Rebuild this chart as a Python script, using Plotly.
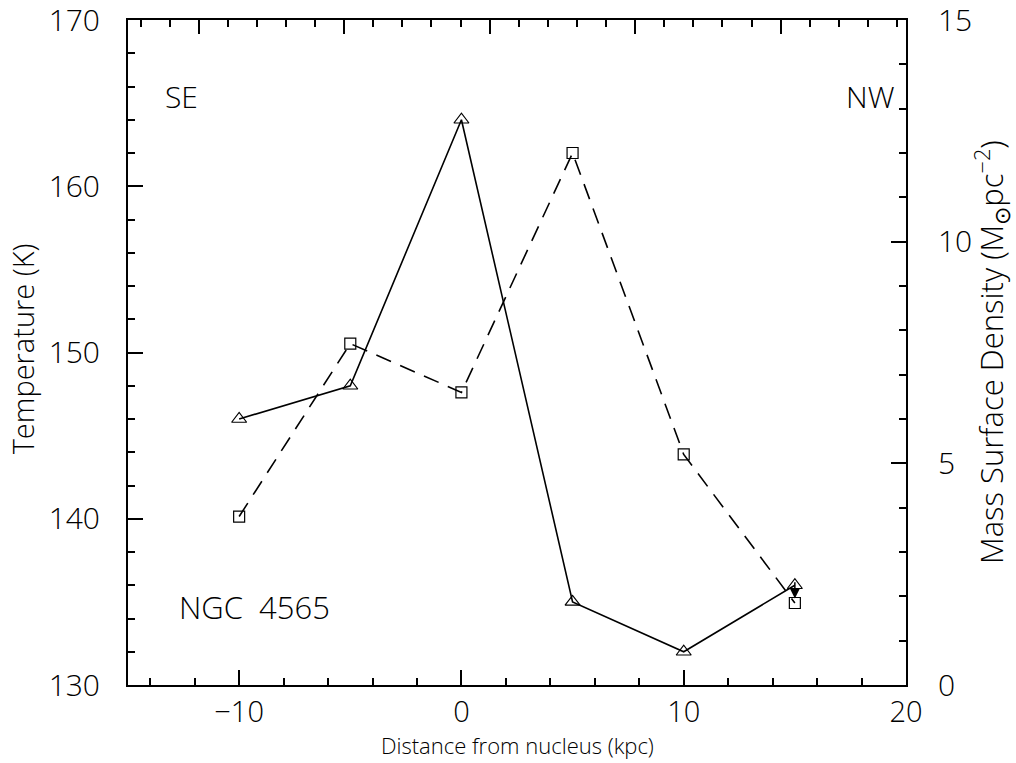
import plotly.graph_objects as go

distance = [-10, -5, 0, 5, 10, 15]
temperature = [146, 148, 164, 135, 132, 136]
mass_density = [3.8, 7.7, 6.6, 12.0, 5.2, 1.85]

FONT = "Open Sans"
W = 300

def f(size):
    return dict(family=FONT, size=size, color="black", weight=W)

fig = go.Figure()
fig.add_trace(go.Scatter(
    x=distance, y=temperature, mode="lines+markers",
    line=dict(color="black", width=1.6),
    marker=dict(symbol="triangle-up-open", size=13, color="black", line=dict(width=1.2)),
    yaxis="y", xaxis="x", showlegend=False))
fig.add_trace(go.Scatter(
    x=distance, y=mass_density, mode="lines+markers",
    line=dict(color="black", width=1.6, dash="16px,10px"),
    marker=dict(symbol="square-open", size=11, color="black", line=dict(width=1.2)),
    yaxis="y2", xaxis="x", showlegend=False))

fig.add_annotation(x=15, y=1.95, xref="x", yref="y2", ax=15, ay=2.35, axref="x", ayref="y2",
                   showarrow=True, arrowhead=2, arrowsize=1.3, arrowwidth=1.5, arrowcolor="black", text="")

axis_common = dict(showgrid=False, zeroline=False, showline=True, linecolor="black", linewidth=2,
                   ticks="inside", tickcolor="black", tickwidth=1.5, automargin=False,
                   ticklabeloverflow="allow")

fig.update_layout(
    width=1016, height=763,
    margin=dict(l=128, r=110, t=20, b=78),
    paper_bgcolor="white", plot_bgcolor="white",
    xaxis=dict(range=[-15, 20], dtick=10, tick0=0, ticklen=15, tickfont=f(29),
               minor=dict(dtick=2, ticklen=7, ticks="inside", tickcolor="black", tickwidth=1.5),
               ticklabelstandoff=0, **axis_common),
    xaxis2=dict(range=[-2.43, 24.31], overlaying="x", side="top", anchor="y",
                dtick=5, tick0=0, ticklen=14, showticklabels=False,
                minor=dict(dtick=1, ticklen=7, ticks="inside", tickcolor="black", tickwidth=1.5),
                **axis_common),
    yaxis=dict(range=[130, 170], dtick=10, ticklen=15, tickfont=f(30),
               minor=dict(dtick=2, ticklen=7, ticks="inside", tickcolor="black", tickwidth=1.5),
               ticklabelstandoff=20, **axis_common),
    yaxis2=dict(range=[0, 15], dtick=5, overlaying="y", side="right", anchor="x", ticklen=15,
                tickfont=f(30),
                minor=dict(dtick=1, ticklen=7, ticks="inside", tickcolor="black", tickwidth=1.5),
                ticklabelstandoff=24, **axis_common),
)

# dummy trace to activate top axis
fig.add_trace(go.Scatter(x=[None], y=[None], xaxis="x2", yaxis="y", showlegend=False))

fig.add_annotation(text="Temperature (K)", xref="paper", yref="paper", x=-0.136, y=0.505,
                   textangle=-90, showarrow=False, font=f(29),
                   xanchor="center", yanchor="middle")
fig.add_annotation(text="Mass Surface Density (M<sub>⊙</sub>pc<sup>−2</sup>)", xref="paper", yref="paper",
                   x=1.11, y=0.5, textangle=-90, showarrow=False,
                   font=f(31), xanchor="center", yanchor="middle")
fig.add_annotation(text="Distance from nucleus (kpc)", xref="paper", yref="paper", x=0.5, y=-0.1143,
                   showarrow=False, font=f(22), borderpad=0,
                   xanchor="center", yanchor="bottom")

fig.add_annotation(text="SE", x=-13.43, y=165.4, xref="x", yref="y", showarrow=False,
                   xanchor="left", yanchor="middle", font=f(30))
fig.add_annotation(text="NW", x=19.6, y=165.4, xref="x", yref="y", showarrow=False,
                   xanchor="right", yanchor="middle", font=f(30))
fig.add_annotation(text="NGC  4565", x=-12.8, y=134.7, xref="x", yref="y", showarrow=False,
                   xanchor="left", yanchor="middle", font=f(31))

fig.write_html("out.html")
